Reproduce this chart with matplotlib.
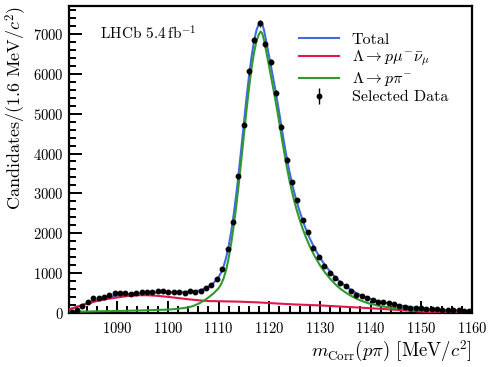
import numpy as np
import matplotlib
matplotlib.use("Agg")
import matplotlib.pyplot as plt

plt.rcParams.update({
    "font.family": "serif",
    "font.serif": ["cmr10"],
    "mathtext.fontset": "cm",
    "axes.formatter.use_mathtext": True,
    "axes.unicode_minus": False,
})

# ---- data (bin centres, 75 bins from 1080.5 to 1160) ----
bin_lo = 1080.5
bin_w = 1.06
data_counts = [30, 75, 178, 264, 364, 379, 405, 447, 490, 505,
               505, 472, 505, 515, 515, 523, 548, 540, 523, 523,
               523, 497, 555, 523, 555, 616, 698, 842, 1100, 1595,
               2289, 3430, 4726, 6058, 6847, 7264, 6746, 6302, 5515, 4676,
               3839, 3290, 2840, 2340, 2023, 1640, 1410, 1176, 992, 882,
               749, 666, 553, 442, 422, 364, 322, 284, 264, 251,
               221, 188, 151, 133, 126, 116, 88, 90, 90, 78,
               75, 65, 63, 55, 53]

# ---- fit curves ----
total_x = [1080.5, 1081.5, 1082.5, 1083.5, 1084.5, 1085.5, 1086.5, 1087.5, 1088.5, 1089.5,
           1090.5, 1092, 1094, 1096, 1098, 1100, 1102, 1104, 1105, 1106,
           1107, 1108, 1109, 1110, 1110.5, 1111, 1111.5, 1112, 1112.5, 1113,
           1113.5, 1114, 1114.5, 1115, 1115.5, 1116, 1116.5, 1117, 1117.5, 1118,
           1118.3, 1118.6, 1119, 1119.5, 1120, 1120.5, 1121, 1121.5, 1122, 1122.5,
           1123, 1123.5, 1124, 1124.5, 1125, 1125.5, 1126, 1126.5, 1127, 1127.5,
           1128, 1129, 1130, 1131, 1132, 1133, 1134, 1135, 1136, 1137,
           1138, 1139, 1140, 1142, 1144, 1146, 1148, 1150, 1152, 1155, 1160]
total_y = [90, 130, 175, 220, 265, 305, 340, 370, 400, 425,
           445, 470, 490, 505, 515, 520, 525, 535, 545, 560,
           600, 660, 750, 900, 1010, 1170, 1390, 1680, 2040, 2480,
           2980, 3540, 4140, 4760, 5370, 5930, 6420, 6820, 7100, 7270,
           7300, 7260, 7080, 6750, 6420, 6080, 5740, 5380, 5000, 4600,
           4220, 3860, 3540, 3250, 2990, 2760, 2550, 2360, 2180, 2020,
           1870, 1610, 1390, 1200, 1040, 900, 780, 680, 590, 515,
           450, 395, 348, 280, 228, 185, 148, 118, 95, 70, 45]

semilep_x = [1080.5, 1082, 1084, 1086, 1088, 1090, 1092, 1094, 1096, 1098,
             1100, 1102, 1104, 1106, 1108, 1110, 1112, 1114, 1116, 1118,
             1120, 1122, 1125, 1130, 1135, 1140, 1145, 1148, 1150, 1152,
             1154, 1160]
semilep_y = [90, 150, 230, 300, 350, 390, 425, 445, 445, 430,
             405, 375, 345, 320, 300, 295, 290, 285, 275, 265,
             250, 235, 215, 190, 155, 120, 80, 55, 35, 15,
             3, 0]

ppi_x = [1080.5, 1085, 1090, 1095, 1100, 1102, 1104, 1105, 1106, 1107,
         1108, 1109, 1110, 1110.5, 1111, 1111.5, 1112, 1112.5, 1113, 1113.5,
         1114, 1114.5, 1115, 1115.5, 1116, 1116.5, 1117, 1117.5, 1118, 1118.3,
         1118.6, 1119, 1119.5, 1120, 1120.5, 1121, 1121.5, 1122, 1122.5, 1123,
         1123.5, 1124, 1124.5, 1125, 1125.5, 1126, 1126.5, 1127, 1127.5, 1128,
         1129, 1130, 1131, 1132, 1133, 1134, 1135, 1136, 1137, 1138,
         1139, 1140, 1142, 1144, 1146, 1148, 1150, 1152, 1155, 1160]
ppi_y = [30, 40, 50, 65, 85, 105, 140, 175, 230, 300,
         390, 490, 620, 720, 870, 1080, 1380, 1750, 2190, 2690,
         3250, 3850, 4460, 5070, 5630, 6130, 6530, 6830, 7000, 7060,
         7020, 6830, 6500, 6170, 5830, 5490, 5140, 4765, 4370, 3995,
         3640, 3320, 3035, 2775, 2550, 2340, 2150, 1975, 1820, 1670,
         1415, 1200, 1015, 860, 725, 610, 520, 440, 370, 315,
         268, 228, 170, 135, 105, 85, 68, 58, 48, 40]

x_ticks = [1090, 1100, 1110, 1120, 1130, 1140, 1150, 1160]
y_ticks = [0, 1000, 2000, 3000, 4000, 5000, 6000, 7000]

c_total = "#4169E1"
c_semi = "#E0174A"
c_ppi = "#2E9A2E"

fig = plt.figure(figsize=(4.94, 3.67), dpi=100)
ax = fig.add_axes([69 / 494, 1 - 313 / 367, 403 / 494, 307 / 367])

centres = bin_lo + bin_w * (np.arange(len(data_counts)) + 0.5)
counts = np.array(data_counts, dtype=float)

ax.plot(total_x, total_y, color=c_total, lw=1.5, label="Total", zorder=2)
ax.plot(semilep_x, semilep_y, color=c_semi, lw=1.5,
        label=r"$\Lambda\rightarrow p\mu^{-}\bar{\nu}_{\mu}$", zorder=3)
ax.plot(ppi_x, ppi_y, color=c_ppi, lw=1.5,
        label=r"$\Lambda\rightarrow p\pi^{-}$", zorder=3)
ax.errorbar(centres, counts, yerr=np.sqrt(counts), fmt="o", color="black",
            ms=3.2, elinewidth=1.0, capsize=0, label="Selected Data", zorder=4)

ax.set_xlim(1080.5, 1160)
ax.set_ylim(0, 7700)
ax.set_xticks(x_ticks)
ax.set_yticks(y_ticks)
ax.xaxis.set_minor_locator(matplotlib.ticker.MultipleLocator(2))
ax.yaxis.set_minor_locator(matplotlib.ticker.MultipleLocator(200))
ax.tick_params(which="both", direction="in", top=False, right=False,
               labelsize=10.5, width=1.4)
ax.tick_params(axis="x", pad=6)
ax.tick_params(axis="y", pad=4)
ax.tick_params(which="major", length=9)
ax.tick_params(which="minor", length=5)
for s in ax.spines.values():
    s.set_linewidth(1.6)

ax.set_xlabel(r"$m_{\mathrm{Corr}}(p\pi)$ [MeV/$c^2$]", fontsize=13.5, loc="right",
              labelpad=2)
ax.set_ylabel(r"Candidates/(1.6 MeV/$c^2$)", fontsize=13, loc="top", labelpad=3)

ax.text(0.077, 0.91, r"LHCb $5.4\,\mathrm{fb}^{-1}$", transform=ax.transAxes,
        fontsize=11, va="center", ha="left")

ax.legend(loc="upper left", bbox_to_anchor=(0.535, 0.96), frameon=False,
          fontsize=11.5, handlelength=2.5, handletextpad=0.8, labelspacing=0.12)

fig.savefig("out.png", dpi=100)
